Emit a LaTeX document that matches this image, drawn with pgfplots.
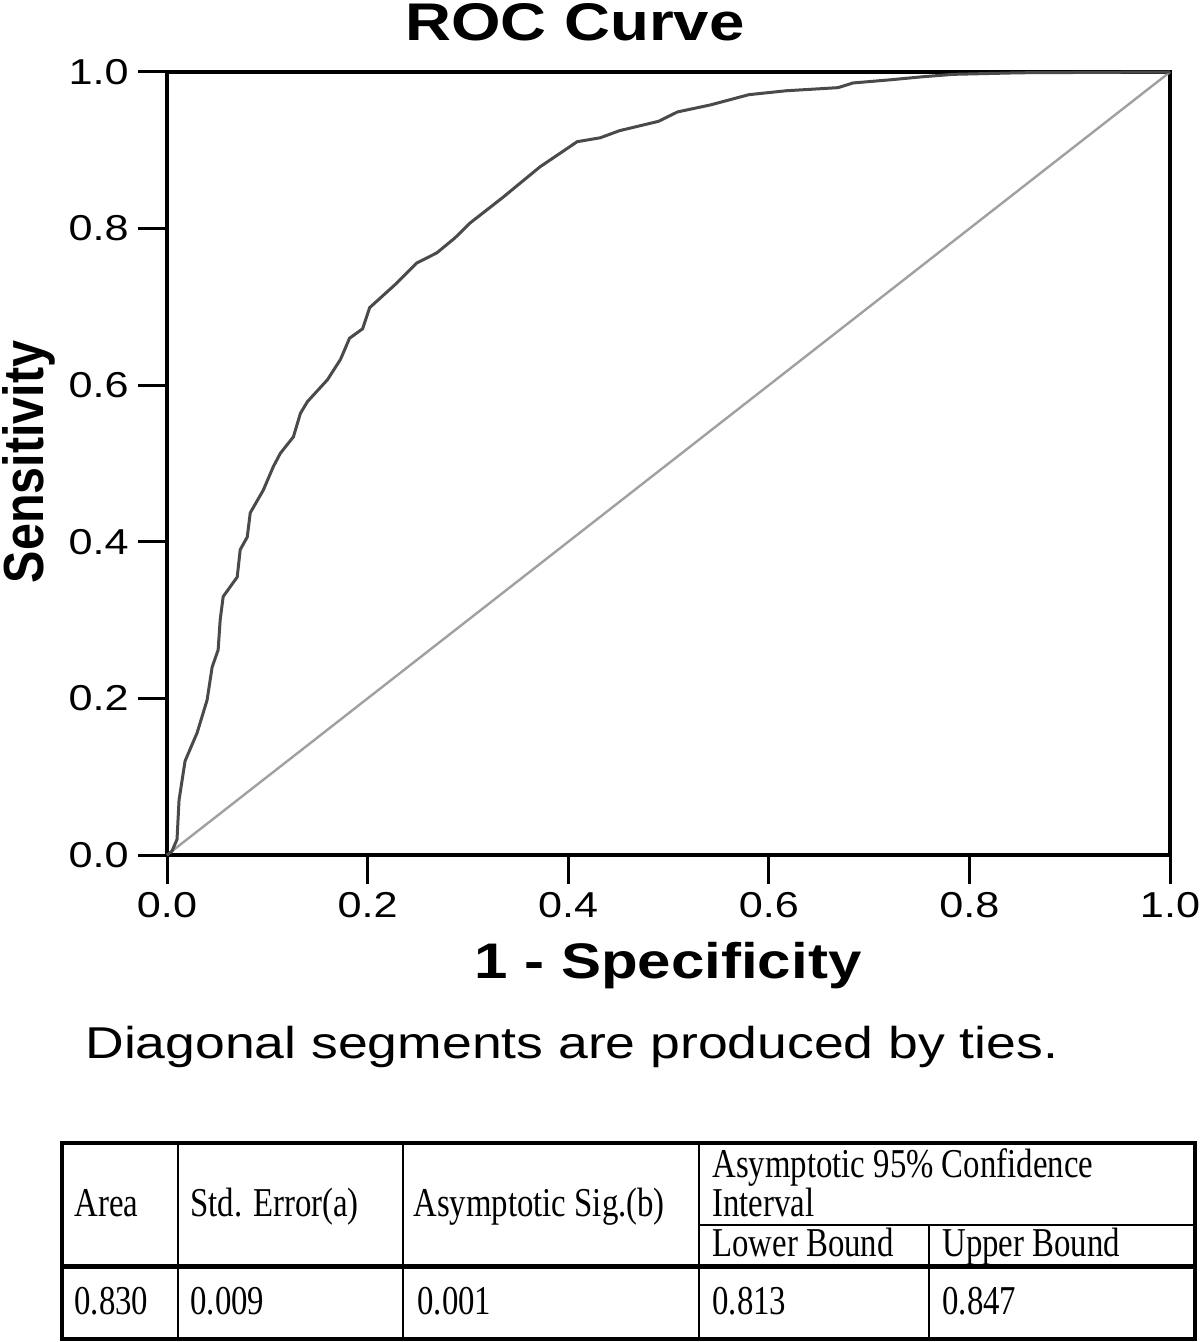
\documentclass[border=0pt]{standalone}
\usepackage{fontspec}
\usepackage{graphicx}
\usepackage{pgfplots}
\pgfplotsset{compat=1.18}
\newfontfamily\chartsans[FakeStretch=1.2]{Liberation Sans}
\newfontfamily\tabserif[FakeStretch=0.8]{Liberation Serif}
\definecolor{roccurve}{HTML}{4A4A4A}
\definecolor{refline}{HTML}{A0A0A0}

\begin{document}
\begin{tikzpicture}
\path[use as bounding box] (0,0) rectangle (600pt,-671pt);

\begin{axis}[
  at={(83.5pt,-427.5pt)}, anchor=south west,
  scale only axis, width=501.5pt, height=391.5pt,
  xmin=0, xmax=1, ymin=0, ymax=1,
  axis line style={line width=2pt, black},
  xtick={0,0.2,0.4,0.6,0.8,1}, ytick={0,0.2,0.4,0.6,0.8,1},
  xticklabels={0.0,0.2,0.4,0.6,0.8,1.0},
  yticklabels={0.0,0.2,0.4,0.6,0.8,1.0},
  tick align=outside, major tick length=14.5pt,
  tick style={line width=1.5pt, black},
  xtick pos=bottom, ytick pos=left,
  ticklabel style={font=\chartsans\fontsize{18}{18}\selectfont},
  xticklabel style={inner sep=0pt, anchor=north, yshift=-4pt},
  yticklabel style={inner sep=0pt, anchor=east, xshift=-4.5pt},
  clip=false,
]
% chance line
\addplot[refline, line width=1.2pt] coordinates {(0,0) (1,1)};
% ROC curve
\addplot[roccurve, line width=1.5pt] coordinates {
(0,0) (0.005,0.005) (0.010,0.020) (0.012,0.070) (0.018,0.120) (0.030,0.156)
(0.040,0.198) (0.045,0.240) (0.051,0.262) (0.053,0.300) (0.056,0.330)
(0.070,0.355) (0.073,0.390) (0.080,0.406) (0.083,0.437) (0.096,0.466)
(0.106,0.496) (0.113,0.513) (0.126,0.534) (0.133,0.564) (0.140,0.579)
(0.160,0.607) (0.173,0.633) (0.182,0.660) (0.195,0.672) (0.202,0.699)
(0.227,0.728) (0.249,0.756) (0.269,0.769) (0.287,0.788) (0.302,0.807)
(0.335,0.840) (0.372,0.879) (0.409,0.911) (0.432,0.916) (0.451,0.925)
(0.490,0.937) (0.509,0.949) (0.542,0.958) (0.580,0.971) (0.617,0.976)
(0.669,0.980) (0.684,0.986) (0.721,0.990) (0.754,0.994) (0.784,0.997)
(0.850,0.999) (1,1)
};
\end{axis}

\begin{scope}[x=0.5pt, y=-0.5pt]
% titles and labels
\node[anchor=base, inner sep=0pt, font=\chartsans\bfseries\fontsize{26.5}{26.5}\selectfont]
  at (575,41) {ROC Curve};
\node[anchor=base, inner sep=0pt, font=\chartsans\bfseries\fontsize{25}{25}\selectfont]
  at (668,978) {1 - Specificity};
\node[inner sep=0pt, font=\chartsans\bfseries\fontsize{20.2}{20.2}\selectfont]
  at (29,462) {\scalebox{1.4}[1]{\rotatebox{90}{Sensitivity}}};
\node[anchor=base west, inner sep=0pt, font=\chartsans\fontsize{22.3}{22.3}\selectfont]
  at (85,1058) {Diagonal segments are produced by ties.};

% table
\draw[line width=0.75pt] (178,1143) -- (178,1340);
\draw[line width=0.75pt] (403,1143) -- (403,1340);
\draw[line width=0.75pt] (699,1143) -- (699,1340);
\draw[line width=0.75pt] (929,1225) -- (929,1340);
\draw[line width=0.75pt] (699,1225) -- (1195,1225);
\draw[line width=2.5pt] (62,1266) -- (1195,1266);
\draw[line width=2pt] (62,1143) rectangle (1195,1339);

\tikzset{tc/.style={anchor=base west, inner sep=0pt, font=\tabserif\fontsize{20.5}{20.5}\selectfont}}
\node[tc] at (74,1216) {Area};
\node[tc] at (190,1216) {Std. Error(a)};
\node[tc] at (413,1216) {Asymptotic Sig.(b)};
\node[tc] at (712,1177) {Asymptotic 95\% Confidence};
\node[tc] at (712,1216) {Interval};
\node[tc] at (712,1256) {Lower Bound};
\node[tc] at (942,1256) {Upper Bound};
\node[tc] at (74,1314) {0.830};
\node[tc] at (190,1314) {0.009};
\node[tc] at (417,1314) {0.001};
\node[tc] at (712,1314) {0.813};
\node[tc] at (942,1314) {0.847};
\end{scope}
\end{tikzpicture}
\end{document}
